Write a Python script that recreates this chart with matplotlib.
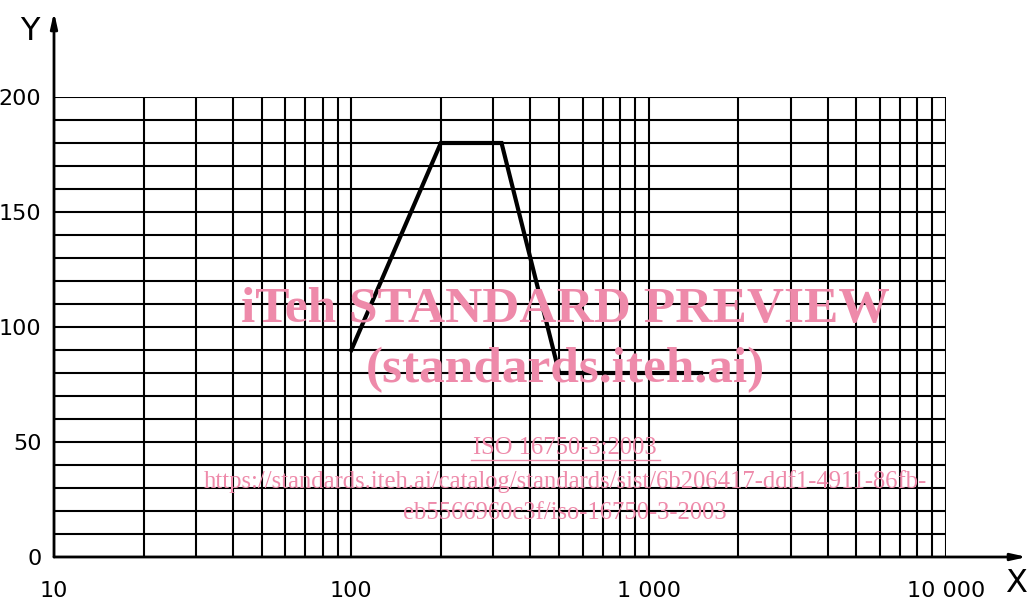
import matplotlib.pyplot as plt
from matplotlib.ticker import LogLocator, NullFormatter

# profile points (frequency, level)
freq = [100, 200, 320, 500, 1500]
level = [90, 180, 180, 80, 80]

x_ticks = [10, 100, 1000, 10000]
x_labels = ["10", "100", "1 000", "10 000"]
y_ticks = [0, 50, 100, 150, 200]
y_labels = ["0", "50", "100", "150", "200"]

label_font = "DejaVu Sans"
mark_color = "#ee8aaa"

W, H = 1027, 605
fig = plt.figure(figsize=(W / 100, H / 100), dpi=100)
ax = fig.add_axes([54 / W, 48 / H, 892 / W, 460 / H])

ax.set_xscale("log")
ax.set_xlim(10, 10000)
ax.set_ylim(0, 200)

# grid: every 10 on y, 1..9 per decade on x
ax.xaxis.set_major_locator(LogLocator(base=10, numticks=10))
ax.xaxis.set_minor_locator(LogLocator(base=10, subs=range(2, 10), numticks=50))
ax.xaxis.set_minor_formatter(NullFormatter())
ax.set_yticks(range(0, 201, 10), minor=True)
ax.grid(True, which="both", color="black", lw=1.5)

ax.set_xticks(x_ticks)
ax.set_xticklabels(x_labels, family=label_font, fontsize=16)
ax.set_yticks(y_ticks)
ax.set_yticklabels(y_labels, family=label_font, fontsize=16)
ax.tick_params(which="both", length=0)
ax.tick_params(axis="x", pad=17)
ax.tick_params(axis="y", pad=9)

for s in ["top", "right", "left", "bottom"]:
    ax.spines[s].set_visible(False)

ax.plot(freq, level, color="black", lw=3, zorder=3, solid_joinstyle="miter")

# axis arrows
arrow = dict(arrowstyle="-|>,head_length=0.9,head_width=0.2",
             color="black", lw=2, shrinkA=0, shrinkB=0)
ax.annotate("", xy=(54 / W, 1 - 12 / H), xytext=(54 / W, 48 / H),
            xycoords="figure fraction", textcoords="figure fraction",
            arrowprops=arrow)
ax.annotate("", xy=(1.0, 48 / H), xytext=(54 / W, 48 / H),
            xycoords="figure fraction", textcoords="figure fraction",
            arrowprops=arrow)
fig.text(30 / W, 1 - 31 / H, "Y", family=label_font, fontsize=23,
         ha="center", va="center")
fig.text(1016 / W, 1 - 583 / H, "X", family=label_font, fontsize=23,
         ha="center", va="center")

# preview watermark
wm = dict(family="Liberation Serif", color=mark_color, ha="center", va="center", zorder=5)
fig.text(565 / W, 1 - 310 / H, "iTeh STANDARD PREVIEW", fontsize=37,
         weight="bold", **wm)
fig.text(565 / W, 1 - 370 / H, "(standards.iteh.ai)", fontsize=37,
         weight="bold", **wm)
fig.text(565 / W, 1 - 448 / H, "ISO 16750-3:2003", fontsize=17.7, **wm)
fig.add_artist(plt.Line2D([471 / W, 660 / W], [1 - 460 / H, 1 - 460 / H],
                          color=mark_color, lw=1, zorder=5))
fig.text(565 / W, 1 - 482 / H,
         "https://standards.iteh.ai/catalog/standards/sist/6b206417-ddf1-4911-86fb-",
         fontsize=17.7, **wm)
fig.text(565 / W, 1 - 513 / H, "eb5566960c3f/iso-16750-3-2003",
         fontsize=17.7, **wm)

fig.savefig("out.png", dpi=100)
